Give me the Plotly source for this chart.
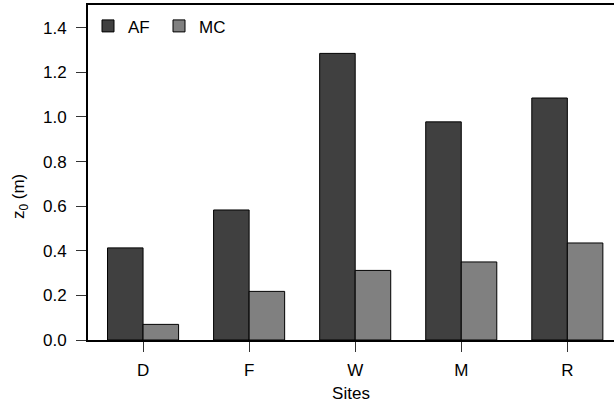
import plotly.graph_objects as go

# Roughness length by site, for the two estimation methods
sites = ["D", "F", "W", "M", "R"]
z0_af = [0.413, 0.583, 1.285, 0.978, 1.085]
z0_mc = [0.070, 0.218, 0.312, 0.350, 0.435]
y_ticks = [0.0, 0.2, 0.4, 0.6, 0.8, 1.0, 1.2, 1.4]

x_idx = list(range(len(sites)))
font = dict(family="Liberation Sans", size=17, color="black")

fig = go.Figure()
fig.add_trace(go.Bar(
    x=x_idx, y=z0_af, name="AF",
    marker=dict(color="#404040", line=dict(color="black", width=1)),
))
fig.add_trace(go.Bar(
    x=x_idx, y=z0_mc, name="MC",
    marker=dict(color="#808080", line=dict(color="black", width=1)),
))

fig.update_layout(
    width=614, height=406,
    margin=dict(l=88, r=0, t=5, b=66),
    paper_bgcolor="white", plot_bgcolor="white",
    font=font,
    barmode="group", bargap=0.33, bargroupgap=0,
    showlegend=True,
    legend=dict(
        orientation="h", x=0.0, y=0.99, xanchor="left", yanchor="top",
        bgcolor="rgba(0,0,0,0)", font=font,
        entrywidth=26, entrywidthmode="pixels",
    ),
    xaxis=dict(
        range=[-0.519, 4.44],
        tickmode="array", tickvals=x_idx, ticktext=sites,
        ticks="outside", ticklen=10, tickwidth=1, tickcolor="#333",
        ticklabelstandoff=4,
        showline=True, linecolor="black", linewidth=2, mirror=True,
        showgrid=False, zeroline=False,
        title=dict(text="Sites", standoff=8, font=font),
    ),
    yaxis=dict(
        range=[0, 1.502],
        tickmode="array", tickvals=y_ticks,
        ticktext=[f"{v:.1f}" for v in y_ticks],
        ticks="outside", ticklen=10, tickwidth=1, tickcolor="#333",
        ticklabelstandoff=6,
        showline=True, linecolor="black", linewidth=2,
        showgrid=False, zeroline=False,
    ),
    annotations=[dict(
        text="z<sub>0</sub> (m)", textangle=-90,
        xref="paper", yref="paper", x=-0.129, y=0.427,
        xanchor="center", yanchor="middle", showarrow=False, font=font,
    )],
)

fig.write_html("out.html", config={"displayModeBar": False})
